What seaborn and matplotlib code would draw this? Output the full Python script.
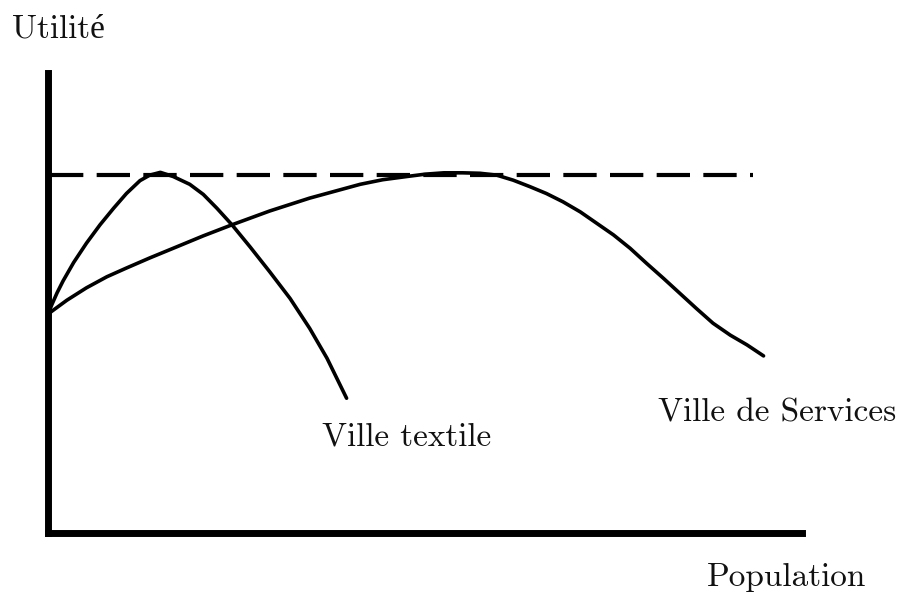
import matplotlib
matplotlib.use("Agg")
import matplotlib.pyplot as plt
import seaborn as sns
import pandas as pd

# Population (x) and utility (y) readings for each city type
textile_pop = [0.0, 0.5, 1.2, 2.0, 3.4, 5.1, 6.9, 8.7, 10.4, 12.2, 13.5,
               14.9, 16.6, 18.8, 20.6, 22.4, 24.4, 26.8, 29.4, 32.1, 34.7,
               37.0, 39.6]
textile_util = [47.6, 49.6, 52.2, 54.8, 58.8, 63.0, 67.0, 70.6, 73.8, 76.6,
                77.8, 78.4, 77.5, 75.8, 73.6, 70.6, 67.0, 62.2, 56.8, 51.0,
                44.5, 38.0, 29.3]

services_pop = [0.0, 0.5, 2.5, 5.1, 7.8, 10.4, 13.5, 17.5, 20.6, 24.4, 29.4,
                34.7, 41.4, 44.4, 47.6, 50.0, 52.5, 55.0, 57.3, 59.5, 61.7,
                63.9, 66.1, 68.3, 70.6, 72.8, 75.0, 77.2, 79.4, 81.6, 83.8,
                86.0, 88.2, 90.5, 92.7, 94.9]
services_util = [47.6, 48.2, 50.6, 53.3, 55.7, 57.6, 59.8, 62.5, 64.6, 67.0,
                 70.0, 72.8, 75.8, 76.8, 77.5, 78.0, 78.3, 78.3, 78.2, 77.8,
                 76.7, 75.3, 73.8, 72.0, 69.8, 67.3, 64.8, 61.9, 58.6, 55.4,
                 52.1, 48.8, 45.6, 43.0, 40.9, 38.5]

# Maximum attainable utility
max_pop = [0.3, 93.5]
max_util = [77.8, 77.8]

labels = {"y": "Utilité", "x": "Population",
          "textile": "Ville textile", "services": "Ville de Services"}

sns.set_theme(style="white")
plt.rcParams["font.family"] = ["cmr10", "Liberation Serif", "DejaVu Serif"]
plt.rcParams["axes.formatter.use_mathtext"] = True

W, H = 903, 593
fig = plt.figure(figsize=(W / 100, H / 100), dpi=100)
ax = fig.add_axes([48 / W, 60 / H, 754 / W, 460 / H])

textile = pd.DataFrame({"pop": textile_pop, "util": textile_util})
services = pd.DataFrame({"pop": services_pop, "util": services_util})
plateau = pd.DataFrame({"pop": max_pop, "util": max_util})

sns.lineplot(data=plateau, x="pop", y="util", ax=ax, color="black",
             linewidth=3, sort=False, estimator=None)
ax.lines[-1].set_dashes((8, 3.2))
sns.lineplot(data=textile, x="pop", y="util", ax=ax, color="black",
             linewidth=2.6, sort=False, estimator=None)
sns.lineplot(data=services, x="pop", y="util", ax=ax, color="black",
             linewidth=2.6, sort=False, estimator=None)
for line in ax.lines:
    line.set_solid_joinstyle("round")

ax.set_xlim(0, 100)
ax.set_ylim(0, 100)
ax.set_xticks([])
ax.set_yticks([])
ax.set_xlabel("")
ax.set_ylabel("")
for side in ("top", "right"):
    ax.spines[side].set_visible(False)
for side in ("left", "bottom"):
    ax.spines[side].set_color("black")
    ax.spines[side].set_linewidth(5)
    ax.spines[side].set_capstyle("projecting")


def fig_text(px, py, s):
    fig.text(px / W, 1 - py / H, s, fontsize=24, color="#111111",
             ha="left", va="baseline")


fig_text(12, 37, labels["y"])
fig_text(707, 586, labels["x"])
fig_text(322, 446, labels["textile"])
fig_text(658, 422, labels["services"])

fig.savefig("out.png", dpi=100, facecolor="white")
